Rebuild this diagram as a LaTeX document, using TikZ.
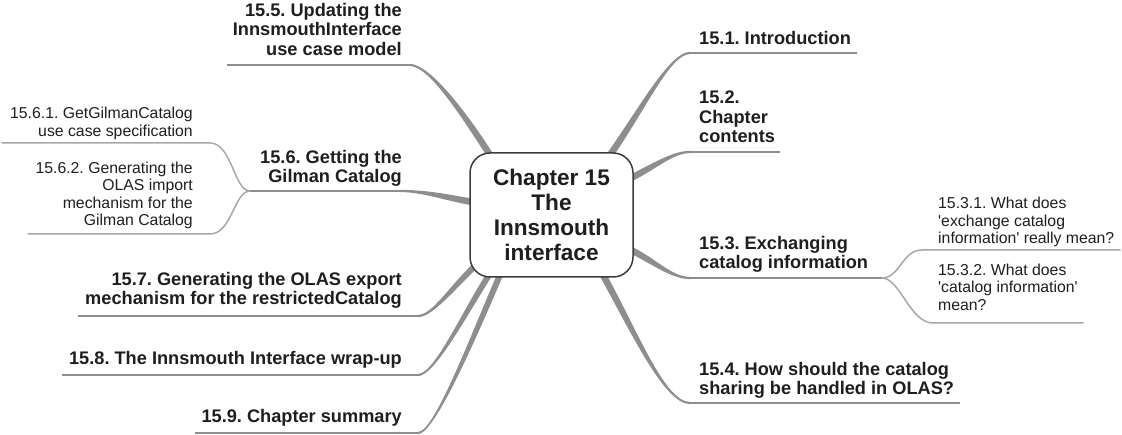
\documentclass[tikz,border=0pt]{standalone}
\usepackage{fontspec}
\setmainfont{Liberation Sans}[Ligatures=TeXOff]
\usetikzlibrary{calc}
\definecolor{brc}{HTML}{8E8E8E}
\definecolor{subc}{HTML}{A8A8A8}
\definecolor{txt}{HTML}{1E1E1E}
\definecolor{bord}{HTML}{3C3C3C}
\frenchspacing
% tapered branch: #1 start, #2 ctrl1, #3 ctrl2, #4 end, #5 half width at start, #6 half width at end
\newcommand\taper[6]{\fill[brc] ($#1!#5!90:#2$) .. controls ($#2!#5!-90:#1$) and ($#3!#6!90:#4$) .. ($#4!#6!-90:#3$) -- ($#4!#6!90:#3$) .. controls ($#3!#6!-90:#4$) and ($#2!#5!90:#1$) .. ($#1!#5!-90:#2$) -- cycle;}
\tikzset{
  mainlbl/.style={font=\fontsize{18.2}{19.5}\selectfont\bfseries, text=txt, inner sep=0pt},
  sublbl/.style={font=\fontsize{15.8}{17.6}\selectfont, text=txt, inner sep=0pt},
  uline/.style={draw=brc, line width=2.2pt},
  subline/.style={draw=subc, line width=1.5pt, line cap=round},
  centre/.style={draw=bord, line width=1.5pt, fill=white, rounded corners=20pt,
    minimum width=163pt, minimum height=124pt, inner sep=0pt, align=center,
    font=\fontsize{22.6}{25}\selectfont\bfseries, text=txt},
}
\begin{document}
\begin{tikzpicture}[x=1pt,y=-1pt]
\useasboundingbox (0,0) rectangle (1122,435);
% branch coordinates
\coordinate (s1) at (610,155); \coordinate (e1) at (690,53);  \coordinate (u1) at (857,53);
\coordinate (s2) at (631,178); \coordinate (e2) at (690,152); \coordinate (u2) at (780,152);
\coordinate (s3) at (631,250); \coordinate (e3) at (690,278); \coordinate (j3) at (882,278);
\coordinate (s4) at (603,275); \coordinate (e4) at (690,403); \coordinate (u4) at (960,403);
\coordinate (s5) at (490,155); \coordinate (e5) at (410,65);  \coordinate (u5) at (227,65);
\coordinate (s6) at (472,202); \coordinate (e6) at (400,191); \coordinate (j6) at (250,191);
\coordinate (s7) at (475,266); \coordinate (e7) at (418,316); \coordinate (u7) at (78,316);
\coordinate (s8) at (489,275); \coordinate (e8) at (418,375); \coordinate (u8) at (62,375);
\coordinate (s9) at (500,275); \coordinate (e9) at (418,433); \coordinate (u9) at (195,433);
\coordinate (a31) at (922,250); \coordinate (b31) at (1120,250);
\coordinate (a32) at (933,323); \coordinate (b32) at (1083,323);
\coordinate (a61) at (210,143); \coordinate (b61) at (2,143);
\coordinate (a62) at (210,234); \coordinate (b62) at (28,234);

% main branches
\taper{(s1)}{(643,108)}{(670,53)}{(e1)}{3.3pt}{1.1pt}
\draw[uline] (e1) -- (u1);
\taper{(s2)}{(655,166)}{(673,152)}{(e2)}{3.3pt}{1.1pt}
\draw[uline] (e2) -- (u2);
\taper{(s3)}{(655,262)}{(672,278)}{(e3)}{3.3pt}{1.1pt}
\draw[uline] (e3) -- (j3);
\taper{(s4)}{(636,335)}{(665,403)}{(e4)}{3.3pt}{1.1pt}
\draw[uline] (e4) -- (u4);
\taper{(s5)}{(460,108)}{(428,65)}{(e5)}{3.3pt}{1.1pt}
\draw[uline] (e5) -- (u5);
\taper{(s6)}{(440,196)}{(422,191)}{(e6)}{3.3pt}{1.1pt}
\draw[uline] (e6) -- (j6);
\taper{(s7)}{(450,290)}{(432,316)}{(e7)}{3pt}{1.1pt}
\draw[uline] (e7) -- (u7);
\taper{(s8)}{(462,318)}{(434,375)}{(e8)}{3pt}{1.1pt}
\draw[uline] (e8) -- (u8);
\taper{(s9)}{(470,345)}{(434,433)}{(e9)}{3pt}{1.1pt}
\draw[uline] (e9) -- (u9);

% sub branches
\draw[subline] (j3) .. controls (900,278) and (902,250) .. (a31) -- (b31);
\draw[subline] (j3) .. controls (900,278) and (910,323) .. (a32) -- (b32);
\draw[subline] (j6) .. controls (234,191) and (232,143) .. (a61) -- (b61);
\draw[subline] (j6) .. controls (234,191) and (232,234) .. (a62) -- (b62);

% central node
\node[centre] (ctr) at (551.5,215) {Chapter 15\\The\\Innsmouth\\interface};

% main labels
\node[mainlbl, anchor=south west, align=left] (n1) at (699,50.85) {15.1. Introduction\strut};
\node[mainlbl, anchor=south west, align=left] (n2) at (699,148.85) {15.2.\\Chapter\\contents\strut};
\node[mainlbl, anchor=south west, align=left] (n3) at (699,274.85) {15.3. Exchanging\\catalog information\strut};
\node[mainlbl, anchor=south west, align=left] (n4) at (699,400.85) {15.4. How should the catalog\\sharing be handled in OLAS?\strut};
\node[mainlbl, anchor=south east, align=right] (n5) at (402,61.35) {15.5. Updating the\\InnsmouthInterface\\use case model\strut};
\node[mainlbl, anchor=south east, align=right] (n6) at (402,188.85) {15.6. Getting the\\Gilman Catalog\strut};
\node[mainlbl, anchor=south east, align=right] (n7) at (402,310.85) {15.7. Generating the OLAS export\\mechanism for the restrictedCatalog\strut};
\node[mainlbl, anchor=south east, align=right] (n8) at (402,370.85) {15.8. The Innsmouth Interface wrap-up\strut};
\node[mainlbl, anchor=south east, align=right] (n9) at (402,428.85) {15.9. Chapter summary\strut};

% sub labels
\node[sublbl, anchor=south west, align=left] (n31) at (938,249.3) {15.3.1. What does\\'exchange catalog\\information' really mean?\strut};
\node[sublbl, anchor=south west, align=left] (n32) at (938,315.8) {15.3.2. What does\\'catalog information'\\mean?\strut};
\node[sublbl, anchor=south east, align=right] (n61) at (193,141.8) {15.6.1. GetGilmanCatalog\\use case specification\strut};
\node[sublbl, anchor=south east, align=right] (n62) at (193,231.3) {15.6.2. Generating the\\OLAS import\\mechanism for the\\Gilman Catalog\strut};
\end{tikzpicture}
\end{document}
